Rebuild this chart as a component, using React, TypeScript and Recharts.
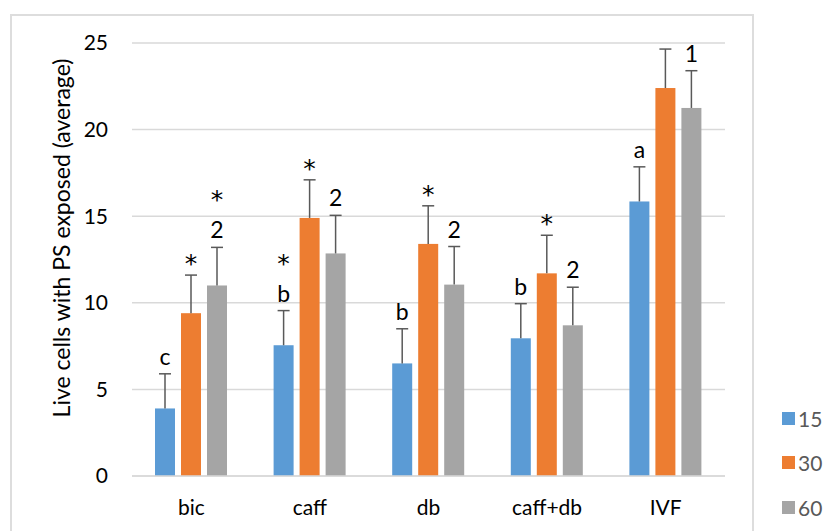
import React from "react";
import {
  BarChart,
  Bar,
  XAxis,
  YAxis,
  CartesianGrid,
  LabelList,
  Legend,
} from "recharts";

// values
const categories = ["bic", "caff", "db", "caff+db", "IVF"];
const mean15 = [3.9, 7.55, 6.5, 7.95, 15.85];
const mean30 = [9.4, 14.9, 13.4, 11.7, 22.4];
const mean60 = [11.0, 12.85, 11.05, 8.7, 21.25];
const err15 = [2.0, 2.0, 2.0, 2.0, 2.0];
const err30 = [2.2, 2.2, 2.2, 2.2, 2.25];
const err60 = [2.2, 2.2, 2.2, 2.2, 2.15];
const yTicks = [0, 5, 10, 15, 20, 25];

// significance marks above each bar (top line first)
const marks15 = [["c"], ["*", "b"], ["b"], ["b"], ["a"]];
const marks30 = [["*"], ["*"], ["*"], ["*"], []];
const marks60 = [["*", "2"], ["2"], ["2"], ["2"], ["1"]];

const seriesNames = ["15", "30", "60"];
const colors = ["#5B9BD5", "#ED7D31", "#A5A5A5"];

const data = categories.map((name, i) => ({
  name,
  m15: mean15[i],
  m30: mean30[i],
  m60: mean60[i],
}));

const FONT = "Lato, 'Open Sans', sans-serif";
const STAR_FONT = "'DejaVu Sans', sans-serif";

// bar + upward-only error whisker, placed from the bar geometry recharts computed
function makeShape(means: number[], errs: number[]) {
  return (props: any) => {
    const { x, y, width, height, fill, index } = props;
    const perUnit = height / means[index];
    const capY = y - errs[index] * perUnit;
    const cx = x + width / 2;
    return (
      <g>
        <rect x={x} y={y} width={width} height={height} fill={fill} />
        <line x1={cx} y1={y} x2={cx} y2={capY} stroke="#595959" strokeWidth={1.5} />
        <line x1={cx - 6} y1={capY} x2={cx + 6} y2={capY} stroke="#595959" strokeWidth={1.5} />
      </g>
    );
  };
}

function makeMarkLabel(marks: string[][], means: number[], errs: number[]) {
  return (props: any) => {
    const vb = props.viewBox || {};
    const x = props.x ?? vb.x;
    const y = props.y ?? vb.y;
    const width = props.width ?? vb.width;
    const height = props.height ?? vb.height;
    const i = props.index;
    const lines = marks[i] || [];
    if (!lines.length) return null;
    const cap = y - errs[i] * (height / means[i]);
    const cx = x + width / 2;
    const n = lines.length;
    return (
      <g>
        {lines.map((t, k) => {
          const fromBottom = n - 1 - k;
          if (t === "*") {
            const center = fromBottom === 0 ? cap - 16 : cap - 52;
            return (
              <text key={k} x={cx} y={center + 13} textAnchor="middle"
                fontFamily={STAR_FONT} fontSize={25} fill="#000">
                {t}
              </text>
            );
          }
          return (
            <text key={k} x={cx} y={cap - 9 - fromBottom * 25} textAnchor="middle"
              fontFamily={FONT} fontSize={23} fill="#000">
              {t}
            </text>
          );
        })}
      </g>
    );
  };
}

function renderLegend() {
  return (
    <div style={{ fontFamily: FONT, fontSize: 21, color: "#595959" }}>
      {seriesNames.map((s, i) => (
        <div key={s} style={{ display: "flex", alignItems: "center", height: 44.5 }}>
          <span
            style={{
              display: "inline-block",
              width: 13,
              height: 13,
              background: colors[i],
              marginRight: 3,
            }}
          />
          <span>{s}</span>
        </div>
      ))}
    </div>
  );
}

export default function App() {
  return (
    <div
      style={{
        position: "absolute",
        left: 0,
        top: 0,
        width: 825,
        height: 531,
        overflow: "hidden",
        background: "#fff",
      }}
    >
      <div
        style={{
          position: "absolute",
          left: 10,
          top: 14,
          width: 744,
          height: 540,
          border: "2px solid #DDDDDD",
          boxSizing: "border-box",
        }}
      />
      <BarChart
        width={825}
        height={531}
        data={data}
        margin={{ top: 43, right: 100, bottom: 25, left: 72 }}
        barSize={20}
        barGap={6}
      >
        <CartesianGrid vertical={false} stroke="#D9D9D9" strokeWidth={1.5} />
        <XAxis
          dataKey="name"
          height={30}
          axisLine={{ stroke: "#D9D9D9", strokeWidth: 1.5 }}
          tickLine={false}
          tickSize={0}
          tickMargin={24}
          tick={{ fontFamily: FONT, fontSize: 21, fill: "#000" }}
        />
        <YAxis
          width={60}
          domain={[0, 25]}
          ticks={yTicks}
          axisLine={false}
          tickLine={false}
          tickSize={0}
          tickMargin={24}
          tick={{ fontFamily: FONT, fontSize: 21, fill: "#000" }}
          label={{
            content: () => (
              <text
                x={61}
                y={238}
                transform="rotate(-90 61 238)"
                textAnchor="middle"
                dominantBaseline="central"
                fontFamily={FONT}
                fontSize={23}
                fill="#000"
              >
                Live cells with PS exposed (average)
              </text>
            ),
          }}
        />
        <Legend
          layout="vertical"
          align="center"
          verticalAlign="middle"
          content={renderLegend}
          wrapperStyle={{ left: 782, top: 396, width: 60 }}
        />
        <Bar dataKey="m15" name="15" fill={colors[0]} isAnimationActive={false}
          shape={makeShape(mean15, err15)}>
          <LabelList dataKey="m15" content={makeMarkLabel(marks15, mean15, err15)} />
        </Bar>
        <Bar dataKey="m30" name="30" fill={colors[1]} isAnimationActive={false}
          shape={makeShape(mean30, err30)}>
          <LabelList dataKey="m30" content={makeMarkLabel(marks30, mean30, err30)} />
        </Bar>
        <Bar dataKey="m60" name="60" fill={colors[2]} isAnimationActive={false}
          shape={makeShape(mean60, err60)}>
          <LabelList dataKey="m60" content={makeMarkLabel(marks60, mean60, err60)} />
        </Bar>
      </BarChart>
    </div>
  );
}
